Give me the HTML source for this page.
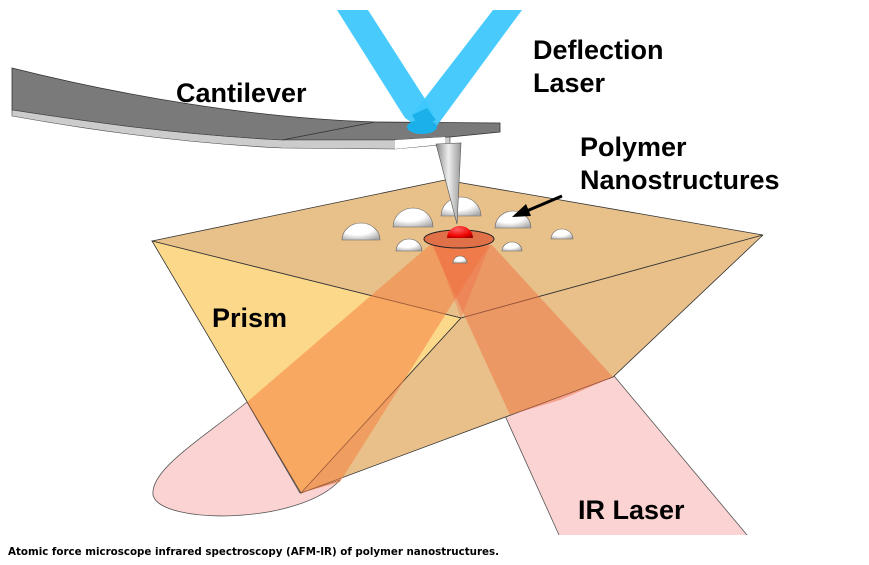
<!DOCTYPE html>
<html><head><style>
body{margin:0;background:#fff;width:869px;height:565px;overflow:hidden}
svg{display:block}
</style></head><body>
<svg width="869" height="565" viewBox="0 0 869 565" xmlns="http://www.w3.org/2000/svg">
<defs>
<radialGradient id="dome" cx="0.4" cy="0.3" r="0.8"><stop offset="0.5" stop-color="#fff"/><stop offset="1" stop-color="#aaa"/></radialGradient>
<radialGradient id="red" cx="0.4" cy="0.3" r="0.8"><stop offset="0" stop-color="#ff6060"/><stop offset="0.7" stop-color="#e00"/><stop offset="1" stop-color="#900"/></radialGradient>
<linearGradient id="tip" x1="0" x2="1"><stop offset="0" stop-color="#888"/><stop offset="0.5" stop-color="#eee"/><stop offset="1" stop-color="#999"/></linearGradient>
</defs>
<path d="M247,402 C200,440 150,470 153,495 C160,525 300,525 340,480 L300,493 Z" fill="#fcd3d3" stroke="#555" stroke-width="0.8"/>
<polygon points="492,387 584,340 747,535 559,535" fill="#fcd3d3"/>
<line x1="492" y1="387" x2="559" y2="535" stroke="#555" stroke-width="0.8"/>
<line x1="584" y1="340" x2="747" y2="535" stroke="#555" stroke-width="0.8"/>
<polygon points="152,241 445,180 763,235 461,318" fill="#e8c08a" stroke="#333" stroke-width="0.8"/>
<polygon points="152,241 461,318 301,493" fill="#fcd98a" stroke="#333" stroke-width="0.8"/>
<polygon points="461,318 763,235 613,377 301,493" fill="#e9c08a" stroke="#333" stroke-width="0.8"/>
<polygon points="430,245 488,247 340,482 301,493 247,402" fill="#f5803f" opacity="0.55"/>
<polygon points="432,245 492,245 613,377 560,400 510,415" fill="#f0703f" opacity="0.5"/>
<polygon points="432,240 492,240 461,318" fill="#f06040" opacity="0.3"/>
<ellipse cx="459" cy="239" rx="35" ry="9" fill="#e07048" stroke="#222" stroke-width="1"/>
<g fill="url(#dome)" stroke="#666" stroke-width="0.6">
<path d="M342,240 A19,17 0 0 1 380,240 Z"/>
<path d="M393,227 A20,19 0 0 1 433,227 Z"/>
<path d="M441,216 A20,19 0 0 1 481,216 Z"/>
<path d="M495,228 A18,17 0 0 1 531,228 Z"/>
<path d="M551,239 A11,10 0 0 1 573,239 Z"/>
<path d="M396,251 A13,12 0 0 1 422,251 Z"/>
<path d="M502,251 A10,9 0 0 1 522,251 Z"/>
<path d="M453,263 A7,7 0 0 1 467,263 Z"/>
</g>
<path d="M447,238 A13,12 0 0 1 473,238 Z" fill="url(#red)"/>
<line x1="562" y1="196" x2="522" y2="213" stroke="#000" stroke-width="3"/>
<polygon points="512,217 526,204 531,216" fill="#000"/>
<!-- cantilever -->
<path d="M12,68 C120,95 250,118 375,122 L500,123 L500,132 L450,137 L395,140 L282,140 C180,135 90,122 12,110 Z" fill="#7a7a7a" stroke="#333" stroke-width="0.8"/>
<path d="M12,110 C90,122 180,135 282,140 L395,140 L450,137 L450,144 L395,149 L282,148 C180,143 90,130 12,116 Z" fill="#ccc" stroke="#444" stroke-width="0.6"/>
<path d="M395,140 L445,137 L445,144 L395,149 Z" fill="#fff"/>
<line x1="282" y1="140" x2="375" y2="122" stroke="#333" stroke-width="0.8"/>
<polygon points="436,144 461,143 457,224" fill="url(#tip)" stroke="#555" stroke-width="0.6"/>
<polygon points="337,10 368,10 434,113 420,128 405,118" fill="#3ec8fc" opacity="0.95"/>
<polygon points="493,10 522,10 436,127 420,128 412,115" fill="#3ec8fc" opacity="0.95"/>
<polygon points="412,115 427,108 436,120 420,128" fill="#1bb0ea"/>
<ellipse cx="422" cy="127" rx="15" ry="7" fill="#1bb0ea"/>
<g font-family="Liberation Sans, sans-serif" font-weight="bold" font-size="27" fill="#000">
<text x="176" y="102">Cantilever</text>
<text x="533" y="59">Deflection</text>
<text x="533" y="92">Laser</text>
<text x="580" y="156">Polymer</text>
<text x="580" y="189">Nanostructures</text>
<text x="212" y="327">Prism</text>
<text x="578" y="519">IR Laser</text>
</g>
<text x="8" y="555" font-family="DejaVu Sans, sans-serif" font-weight="bold" font-size="10.3" fill="#000">Atomic force microscope infrared spectroscopy (AFM-IR) of polymer nanostructures.</text>
</svg>
</body></html>
